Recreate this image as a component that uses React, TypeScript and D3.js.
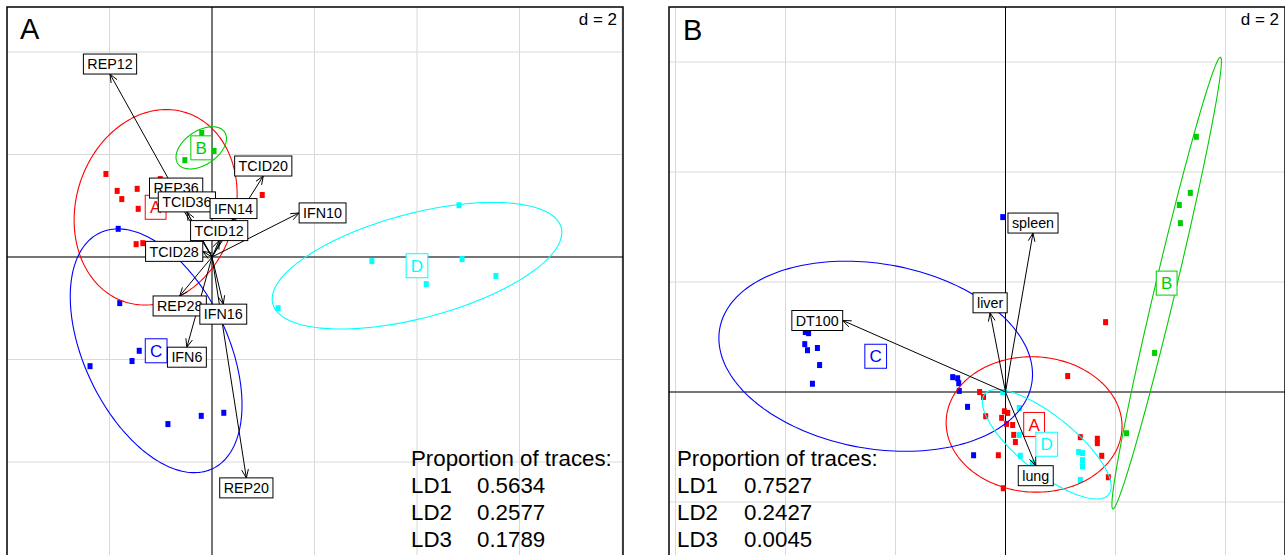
import React from "react";
import * as d3 from "d3";

const FONT = "'Liberation Sans', Arial, Helvetica, sans-serif";
const classNames = ["A", "B", "C", "D"];
const classColors = ["#FF0000", "#00CD00", "#0000FF", "#00FFFF"];
const gridStep = 2;

// ---------- Panel A : discriminant scores (LD1, LD2) ----------
const ptsA_A = [[-2.07, 1.62], [-1.85, 1.29], [-1.76, 1.13], [-1.46, 1.33], [-1.44, 0.94], [-1.48, 0.25], [-1.35, 0.27], [0.98, 1.21], [-1.01, 1.52], [-1.09, -1.66]];
const ptsA_B = [[-0.2, 2.42], [0.04, 2.07], [-0.53, 1.89]];
const ptsA_C = [[-1.83, 0.55], [-1.8, -0.9], [-1.42, -1.83], [-1.56, -2.03], [-2.38, -2.13], [-0.86, -3.26], [-0.21, -3.1], [0.23, -3.04]];
const ptsA_D = [[4.82, 1.01], [3.12, -0.08], [4.88, -0.04], [4.18, -0.53], [5.54, -0.37], [1.29, -1.0]];
// ellipses: [cx, cy, semi-axis a, semi-axis b, angle of a (deg)]
const ellA = [[-1.1, 0.97, 1.94, 1.55, 72.2], [-0.21, 2.13, 0.55, 0.33, 34], [-1.09, -1.83, 2.55, 1.4, 115.6], [4.0, -0.17, 2.91, 1.02, 14.8]];
const varsA = ["REP12", "REP20", "REP28", "REP36", "TCID12", "TCID20", "TCID28", "TCID36", "IFN6", "IFN10", "IFN14", "IFN16"];
const varsA_x = [-1.99, 0.67, -0.63, -0.7, 0.14, 1.0, -0.18, -0.49, -0.49, 1.7, 0.42, 0.22];
const varsA_y = [3.57, -4.31, -0.76, 1.15, 0.32, 1.58, 0.11, 0.88, -1.76, 0.86, 0.75, -0.92];
const tracesA = ["0.5634", "0.2577", "0.1789"];

// ---------- Panel B ----------
const ptsB_A = [[1.82, 1.27], [1.13, 0.29], [-0.47, 0.0], [-0.4, -0.09], [-0.36, -0.44], [-0.07, -0.47], [-0.02, -0.35], [0.04, -0.38], [0.02, -0.58], [0.13, -0.6], [0.15, -0.78], [0.18, -0.91], [-0.13, -1.15], [-0.04, -1.75], [1.36, -0.82], [1.67, -0.85], [1.67, -0.93], [1.75, -1.16], [1.87, -1.55]];
const ptsB_B = [[3.47, 4.64], [3.36, 3.62], [3.16, 3.4], [3.18, 3.07], [2.71, 0.71], [2.2, -0.75]];
const ptsB_C = [[-3.64, 1.09], [-3.58, 1.07], [-3.65, 0.87], [-3.6, 0.76], [-3.42, 0.8], [-3.38, 0.49], [-3.51, 0.15], [-0.96, 0.27], [-0.87, 0.25], [-0.85, 0.16], [-0.84, 0.02], [-0.69, -0.27], [-0.58, -1.15], [-0.05, 3.18]];
const ptsB_D = [[0.25, -0.29], [0.25, -0.78], [0.27, -1.16], [0.49, -1.29], [-0.05, 0.0], [1.33, -1.09], [1.4, -1.11], [1.4, -1.24], [1.4, -1.35], [1.36, -1.6]];
const ellB = [[0.52, -0.59, 1.6, 1.23, -3], [2.93, 1.98, 4.22, 0.19, 76.6], [-2.36, 0.65, 2.88, 1.68, -10], [0.75, -0.95, 1.45, 0.51, -39]];
const varsB = ["DT100", "liver", "lung", "spleen"];
const varsB_x = [-2.96, -0.28, 0.55, 0.5];
const varsB_y = [1.3, 1.44, -1.34, 2.89];
const tracesB = ["0.7527", "0.2427", "0.0045"];

const traceNames = ["LD1", "LD2", "LD3"];

// layout (pixels)
const layoutA = { id: "pA", left: 7, top: 7, size: 616, ox: 212, oy: 257, unit: 51.25, tag: "A", tagX: 20, tagY: 39, propX: 411, valX: 477 };
const layoutB = { id: "pB", left: 669, top: 7, size: 616, ox: 1005.5, oy: 392, unit: 55, tag: "B", tagX: 683, tagY: 40, propX: 677, valX: 744 };

let mctx: any = null;
function textW(s: string, size: number) {
  if (!mctx) mctx = document.createElement("canvas").getContext("2d");
  mctx.font = `${size}px ${FONT}`;
  return mctx.measureText(s).width;
}

function ellipsePath(e: number[], x: any, y: any) {
  const [cx, cy, a, b, ang] = e;
  const th = (ang * Math.PI) / 180;
  const pts = d3.range(0, 200).map((i) => {
    const t = (i / 200) * 2 * Math.PI;
    const dx = a * Math.cos(t), dy = b * Math.sin(t);
    return [x(cx + dx * Math.cos(th) - dy * Math.sin(th)), y(cy + dx * Math.sin(th) + dy * Math.cos(th))] as [number, number];
  });
  return d3.line().curve(d3.curveLinearClosed)(pts) as string;
}

function Panel({ L, groups, ells, vars, vx, vy, traces }: any) {
  const x = d3.scaleLinear().domain([(L.left - L.ox) / L.unit, (L.left + L.size - L.ox) / L.unit]).range([L.left, L.left + L.size]);
  const y = d3.scaleLinear().domain([(L.oy - L.top - L.size) / L.unit, (L.oy - L.top) / L.unit]).range([L.top + L.size, L.top]);
  const [x0, x1] = x.domain();
  const [y0, y1] = y.domain();
  const gx = d3.range(Math.ceil(x0 / gridStep - 1e-9) * gridStep, x1 + 1e-9, gridStep);
  const gy = d3.range(Math.ceil(y0 / gridStep - 1e-9) * gridStep, y1 + 1e-9, gridStep);
  const R = L.left + L.size, B = L.top + L.size;

  const clsFs = 17, clsHalfH = 12;
  const varFs = 14.3, varHalfH = 10;
  const headLen = 9, headAng = (22 * Math.PI) / 180;
  const dW = textW("d = 2", 17);

  return (
    <g>
      <defs>
        <clipPath id={L.id}>
          <rect x={L.left} y={L.top} width={L.size} height={L.size} />
        </clipPath>
      </defs>
      <g clipPath={`url(#${L.id})`}>
        <rect x={L.left} y={L.top} width={L.size} height={L.size} fill="#fff" />
        {gx.map((v: number, i: number) => (
          <line key={"gx" + i} x1={x(v)} x2={x(v)} y1={L.top} y2={B} stroke="#d9d9d9" strokeWidth={1} />
        ))}
        {gy.map((v: number, i: number) => (
          <line key={"gy" + i} x1={L.left} x2={R} y1={y(v)} y2={y(v)} stroke="#d9d9d9" strokeWidth={1} />
        ))}
        <line x1={x(0)} x2={x(0)} y1={L.top} y2={B} stroke="#000" strokeWidth={1} />
        <line x1={L.left} x2={R} y1={y(0)} y2={y(0)} stroke="#000" strokeWidth={1} />
        <rect x={R - 6 - dW - 3} y={L.top + 2} width={dW + 6} height={20} fill="#fff" />
        <text x={R - 6} y={L.top + 18} fontSize={17} fontFamily={FONT} textAnchor="end">d = 2</text>
        <text x={L.tagX} y={L.tagY} fontSize={29} fontFamily={FONT}>{L.tag}</text>

        {groups.map((pts: number[][], gi: number) =>
          pts.map((p, i) => (
            <rect key={`p${gi}-${i}`} x={x(p[0]) - 2.5} y={y(p[1]) - 3} width={5} height={6} fill={classColors[gi]} />
          ))
        )}
        {ells.map((e: number[], gi: number) => (
          <path key={"e" + gi} d={ellipsePath(e, x, y)} fill="none" stroke={classColors[gi]} strokeWidth={1.1} />
        ))}
        {ells.map((e: number[], gi: number) => {
          const w = textW(" " + classNames[gi] + " ", clsFs);
          const cx = x(e[0]), cy = y(e[1]);
          return (
            <g key={"cl" + gi}>
              <rect x={cx - w / 2} y={cy - clsHalfH} width={w} height={clsHalfH * 2} fill="#fff" stroke={classColors[gi]} strokeWidth={1} />
              <text x={cx} y={cy + clsFs * 0.36} fontSize={clsFs} fontFamily={FONT} textAnchor="middle" fill={classColors[gi]}>{classNames[gi]}</text>
            </g>
          );
        })}

        {vars.map((n: string, i: number) => {
          const tx = x(vx[i]), ty = y(vy[i]);
          const ang = Math.atan2(ty - y(0), tx - x(0));
          const b1 = [tx - headLen * Math.cos(ang - headAng), ty - headLen * Math.sin(ang - headAng)];
          const b2 = [tx - headLen * Math.cos(ang + headAng), ty - headLen * Math.sin(ang + headAng)];
          return (
            <g key={"a" + i} stroke="#000" strokeWidth={1} fill="none">
              <line x1={x(0)} y1={y(0)} x2={tx} y2={ty} />
              <polyline points={`${b1[0]},${b1[1]} ${tx},${ty} ${b2[0]},${b2[1]}`} />
            </g>
          );
        })}
        {vars.map((n: string, i: number) => {
          const tx = x(vx[i]), ty = y(vy[i]);
          const w = textW(" " + n + " ", varFs);
          const a = vx[i], b = vy[i];
          let cx = tx, cy = ty;
          if (a > b && a > -b) cx = tx + w / 2;
          else if (a > b && a <= -b) cy = ty + varHalfH;
          else if (a <= b && a <= -b) cx = tx - w / 2;
          else cy = ty - varHalfH;
          return (
            <g key={"l" + i}>
              <rect x={cx - w / 2} y={cy - varHalfH} width={w} height={varHalfH * 2} fill="#fff" stroke="#000" strokeWidth={1} />
              <text x={cx} y={cy + varFs * 0.36} fontSize={varFs} fontFamily={FONT} textAnchor="middle">{n}</text>
            </g>
          );
        })}

        <text x={L.propX} y={466} fontSize={22.3} fontFamily={FONT}>Proportion of traces:</text>
        {traces.map((t: string, i: number) => (
          <g key={"t" + i}>
            <text x={L.propX} y={493 + i * 27} fontSize={22.3} fontFamily={FONT}>{traceNames[i]}</text>
            <text x={L.valX} y={493 + i * 27} fontSize={22.3} fontFamily={FONT}>{t}</text>
          </g>
        ))}
      </g>
      <rect x={L.left} y={L.top} width={L.size} height={L.size} fill="none" stroke="#000" strokeWidth={1.5} />
    </g>
  );
}

export default function App() {
  return (
    <svg width={1285} height={555} style={{ position: "absolute", left: 0, top: 0, background: "#fff" }}>
      <rect x={0} y={0} width={1285} height={555} fill="#fff" />
      <Panel L={layoutA} groups={[ptsA_A, ptsA_B, ptsA_C, ptsA_D]} ells={ellA} vars={varsA} vx={varsA_x} vy={varsA_y} traces={tracesA} />
      <Panel L={layoutB} groups={[ptsB_A, ptsB_B, ptsB_C, ptsB_D]} ells={ellB} vars={varsB} vx={varsB_x} vy={varsB_y} traces={tracesB} />
    </svg>
  );
}
